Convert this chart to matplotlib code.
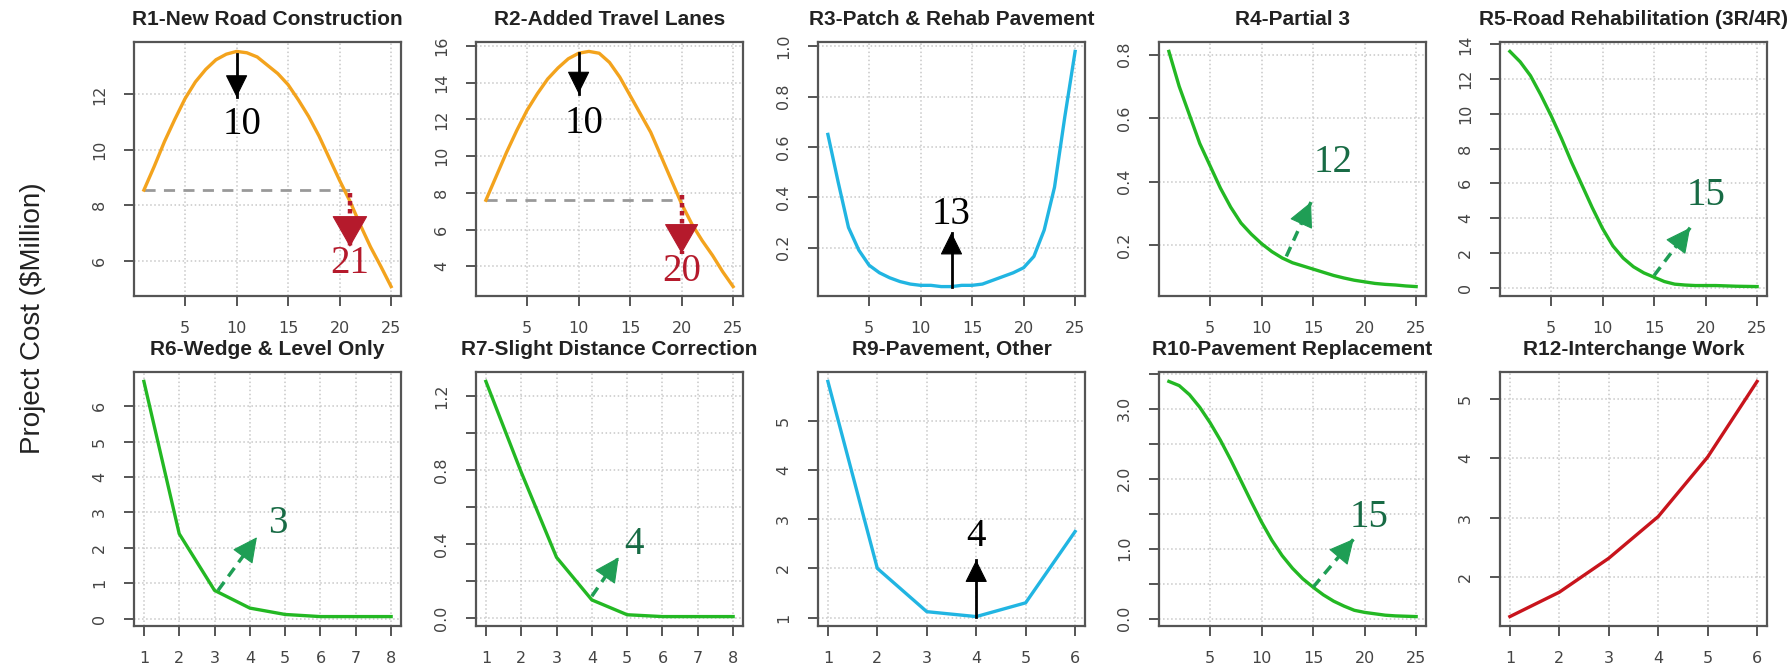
import numpy as np
import matplotlib
matplotlib.use('Agg')
import matplotlib.pyplot as plt
from matplotlib.ticker import FixedLocator, FixedFormatter

# dane
lata25 = list(range(1, 26))
lata8 = list(range(1, 9))
lata6 = list(range(1, 7))

r1_koszt = [8.55, 9.4, 10.3, 11.1, 11.85, 12.45, 12.9, 13.25, 13.45, 13.55, 13.5, 13.35, 13.05,
            12.75, 12.35, 11.8, 11.2, 10.5, 9.7, 8.9, 8.15, 7.3, 6.5, 5.8, 5.07]
r2_koszt = [7.6, 8.9, 10.2, 11.4, 12.5, 13.4, 14.2, 14.8, 15.3, 15.6, 15.7, 15.6, 15.1,
            14.3, 13.3, 12.3, 11.3, 10.0, 8.7, 7.4, 6.3, 5.4, 4.6, 3.7, 2.9]
r3_koszt = [0.65, 0.46, 0.28, 0.19, 0.13, 0.10, 0.08, 0.065, 0.055, 0.05, 0.05, 0.045, 0.045,
            0.05, 0.05, 0.055, 0.07, 0.085, 0.10, 0.12, 0.165, 0.27, 0.44, 0.72, 0.98]
r4_koszt = [0.81, 0.70, 0.61, 0.52, 0.45, 0.38, 0.32, 0.27, 0.235, 0.205, 0.18, 0.16, 0.145,
            0.135, 0.125, 0.115, 0.105, 0.097, 0.09, 0.085, 0.08, 0.077, 0.075, 0.072, 0.07]
r5_koszt = [13.6, 13.0, 12.2, 11.1, 9.9, 8.6, 7.2, 5.9, 4.6, 3.4, 2.4, 1.7, 1.2,
            0.85, 0.6, 0.35, 0.2, 0.15, 0.12, 0.12, 0.12, 0.1, 0.08, 0.07, 0.06]
r6_koszt = [6.7, 2.4, 0.8, 0.3, 0.12, 0.06, 0.06, 0.06]
r7_koszt = [1.28, 0.79, 0.33, 0.1, 0.02, 0.01, 0.01, 0.01]
r9_koszt = [5.8, 2.0, 1.12, 1.02, 1.3, 2.75]
r10_koszt = [3.39, 3.33, 3.2, 3.02, 2.8, 2.55, 2.27, 1.97, 1.67, 1.38, 1.12, 0.9, 0.72,
             0.57, 0.45, 0.34, 0.25, 0.18, 0.12, 0.09, 0.07, 0.05, 0.04, 0.035, 0.03]
r12_koszt = [1.34, 1.75, 2.32, 3.02, 4.02, 5.29]

tytuly = ["R1-New Road Construction", "R2-Added Travel Lanes", "R3-Patch & Rehab Pavement",
          "R4-Partial 3", "R5-Road Rehabilitation (3R/4R)", "R6-Wedge & Level Only",
          "R7-Slight Distance Correction", "R9-Pavement, Other", "R10-Pavement Replacement",
          "R12-Interchange Work"]

pomaranczowy = '#f3a31d'
niebieski = '#21b5e2'
zielony = '#23b823'
czerwony = '#c8141c'
ciemnoczerwony = '#b51a2c'
strzalka_ziel = '#1f9e55'
napis_ziel = '#186b45'

xt25 = [5, 10, 15, 20, 25]
panele = [
    (lata25, r1_koszt, pomaranczowy, xt25, [6, 8, 10, 12], None),
    (lata25, r2_koszt, pomaranczowy, xt25, [4, 6, 8, 10, 12, 14, 16], None),
    (lata25, r3_koszt, niebieski, xt25, [0.2, 0.4, 0.6, 0.8, 1.0], ['0.2', '0.4', '0.6', '0.8', '1.0']),
    (lata25, r4_koszt, zielony, xt25, [0.2, 0.4, 0.6, 0.8], ['0.2', '0.4', '0.6', '0.8']),
    (lata25, r5_koszt, zielony, xt25, [0, 2, 4, 6, 8, 10, 12, 14], None),
    (lata8, r6_koszt, zielony, lata8, [0, 1, 2, 3, 4, 5, 6], None),
    (lata8, r7_koszt, zielony, lata8, [0, 0.2, 0.4, 0.6, 0.8, 1.0, 1.2],
     ['0.0', '', '0.4', '', '0.8', '', '1.2']),
    (lata6, r9_koszt, niebieski, lata6, [1, 2, 3, 4, 5, 6], None),
    (lata25, r10_koszt, zielony, xt25, [0, 0.5, 1.0, 1.5, 2.0, 2.5, 3.0, 3.5],
     ['0.0', '', '1.0', '', '2.0', '', '3.0', '']),
    (lata6, r12_koszt, czerwony, lata6, [2, 3, 4, 5], None),
]

W, H = 1792, 670
fig = plt.figure(figsize=(W / 100, H / 100), dpi=100)
lewe = [134, 476, 818, 1159, 1500]
gory = [42, 372]
szer, wys = 267, 254

serif = ['Liberation Serif', 'DejaVu Serif']
bezszer = ['Liberation Sans', 'DejaVu Sans']

osie = []
for i, (x, y, kolor, xt, yt, ylab) in enumerate(panele):
    l = lewe[i % 5]
    g = gory[i // 5]
    ax = fig.add_axes([l / W, 1 - (g + wys) / H, szer / W, wys / H])
    ax.plot(x, y, color=kolor, lw=2.4, zorder=3)
    ax.margins(x=0.04, y=0.04)
    ax.set_xticks(xt)
    ax.yaxis.set_major_locator(FixedLocator(yt))
    if ylab is not None:
        ax.yaxis.set_major_formatter(FixedFormatter(ylab))
    ax.grid(True, color='#c8c8c8', linestyle=':', lw=1.1)
    for s in ax.spines.values():
        s.set_color('#555555')
        s.set_linewidth(1.6)
    ax.tick_params(axis='both', direction='out', length=7.5, width=1.4, color='#555555',
                   labelcolor='#444444', labelsize=11.5)
    ax.tick_params(axis='x', pad=10.5)
    ax.tick_params(axis='y', pad=12)
    for t in ax.get_yticklabels():
        t.set_rotation(90)
        t.set_va('center')
    ax.set_title(tytuly[i], fontsize=15, fontweight='bold', family=bezszer, pad=12, color='#222222')
    osie.append(ax)


def strzalka(ax, start, koniec, kolor, lw=2, styl='-', hl=1.45, hw=0.72):
    # trzon linii osobno, grot zawsze pełny
    ax.plot([start[0], koniec[0]], [start[1], koniec[1]], color=kolor, lw=lw, ls=styl, zorder=5)
    prawie = (koniec[0] - 0.05 * (koniec[0] - start[0]), koniec[1] - 0.05 * (koniec[1] - start[1]))
    ax.annotate('', xy=koniec, xytext=prawie,
                arrowprops=dict(arrowstyle='-|>,head_length=%s,head_width=%s' % (hl, hw),
                                mutation_scale=10, color=kolor, lw=0.8,
                                shrinkA=0, shrinkB=0), zorder=5)


def napis(ax, pos, tekst, kolor):
    ax.text(pos[0], pos[1], tekst, color=kolor, fontsize=28, family=serif,
            ha='center', va='center', zorder=6)


kropki = (0, (1, 0.8))
kreski = (0, (3, 2))

# R1
ax = osie[0]
ax.plot([1, 21], [r1_koszt[0], r1_koszt[0]], color='#999999', lw=2, ls=(0, (4, 3)), zorder=2)
strzalka(ax, (10, r1_koszt[9] - 0.1), (10, 11.9), 'black')
napis(ax, (10.5, 10.9), '10', 'black')
strzalka(ax, (21, r1_koszt[0] - 0.1), (21, 6.5), ciemnoczerwony, lw=3.2, styl=kropki, hl=2.1, hw=1.2)
napis(ax, (21, 5.9), '21', ciemnoczerwony)

# R2
ax = osie[1]
ax.plot([1, 20], [r2_koszt[0], r2_koszt[0]], color='#999999', lw=2, ls=(0, (4, 3)), zorder=2)
strzalka(ax, (10, r2_koszt[9]), (10, 13.4), 'black')
napis(ax, (10.5, 11.8), '10', 'black')
strzalka(ax, (20, 7.9), (20, 4.7), ciemnoczerwony, lw=3.2, styl=kropki, hl=2.0, hw=1.15)
napis(ax, (20, 3.7), '20', ciemnoczerwony)

# R3
ax = osie[2]
strzalka(ax, (13, r3_koszt[12]), (13, 0.26), 'black')
napis(ax, (13, 0.33), '13', 'black')

# R4
ax = osie[3]
strzalka(ax, (12.4, 0.165), (14.8, 0.336), strzalka_ziel, lw=2.5, styl=kreski, hl=1.6, hw=0.8)
napis(ax, (16.9, 0.46), '12', napis_ziel)

# R5
ax = osie[4]
strzalka(ax, (15, r5_koszt[14] + 0.1), (18.5, 3.45), strzalka_ziel, lw=2.5, styl=kreski, hl=1.6, hw=0.8)
napis(ax, (20, 5.3), '15', napis_ziel)

# R6
ax = osie[5]
strzalka(ax, (3.1, r6_koszt[2]), (4.2, 2.3), strzalka_ziel, lw=2.5, styl=kreski, hl=1.6, hw=0.8)
napis(ax, (4.8, 2.7), '3', napis_ziel)

# R7
ax = osie[6]
strzalka(ax, (4, 0.12), (4.76, 0.33), strzalka_ziel, lw=2.5, styl=kreski, hl=1.6, hw=0.8)
napis(ax, (5.2, 0.4), '4', napis_ziel)

# R9
ax = osie[7]
strzalka(ax, (4, r9_koszt[3]), (4, 2.17), 'black')
napis(ax, (4, 2.64), '4', 'black')

# R10
ax = osie[8]
strzalka(ax, (15, r10_koszt[14]), (18.95, 1.14), strzalka_ziel, lw=2.5, styl=kreski, hl=1.6, hw=0.8)
napis(ax, (20.4, 1.45), '15', napis_ziel)

fig.text(33 / W, 1 - 318 / H, 'Project Cost ($Million)', rotation=90, fontsize=20,
         family=bezszer, color='#222222', ha='center', va='center')

fig.savefig('out.png', dpi=100)
